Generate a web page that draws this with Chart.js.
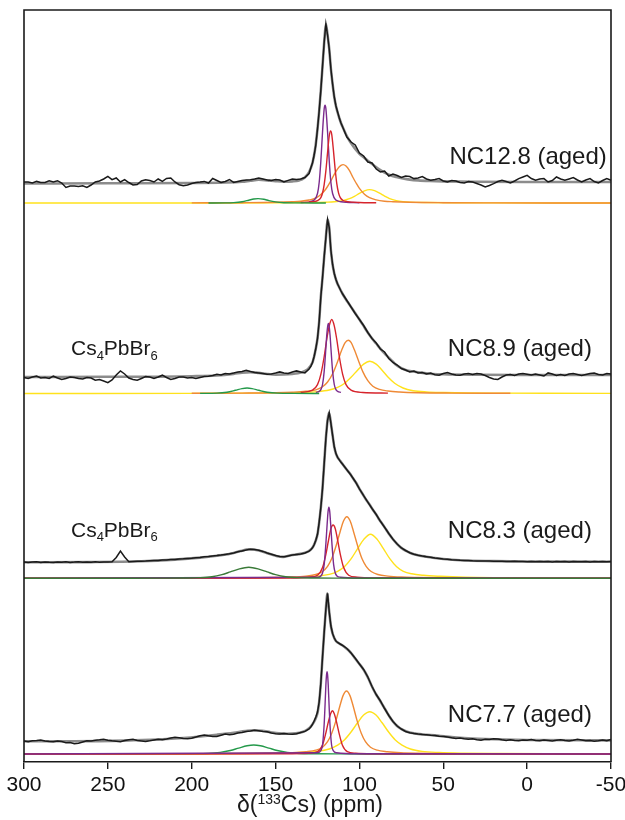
<!DOCTYPE html>
<html><head><meta charset="utf-8">
<script src="https://cdn.jsdelivr.net/npm/chart.js@4.4.1/dist/chart.umd.min.js"></script>
<style>html,body{margin:0;padding:0;background:#fff;}</style>
</head><body>
<canvas id="c" width="625" height="820"></canvas>
<script>
// ---------- x grid of the measured spectra (ppm) ----------
const ppmExp = [
 300,297.5,295,292.5,290,287.5,285,282.5,280,277.5,
 275,272.5,270,267.5,265,262.5,260,257.5,255,252.5,
 250,247.5,245,242.5,240,237.5,235,232.5,230,227.5,
 225,222.5,220,217.5,215,212.5,210,207.5,205,202.5,
 200,197.5,195,192.5,190,187.5,185,182.5,180,177.5,
 175,172.5,170,167.5,165,162.5,160,157.5,155,152.5,
 150,147.5,145,142.5,140,137.5,135,132.5,130,
 129,128,127,126,125,124,123,122,121,120,119,118,117,116,115,114,113,112,111,
 110,107.5,105,102.5,100,97.5,95,92.5,90,87.5,
 85,82.5,80,77.5,75,72.5,70,67.5,65,62.5,
 60,57.5,55,52.5,50,47.5,45,42.5,40,37.5,
 35,32.5,30,27.5,25,22.5,20,17.5,15,12.5,
 10,7.5,5,2.5,0,-2.5,-5,-7.5,-10,-12.5,
 -15,-17.5,-20,-22.5,-25,-27.5,-30,-32.5,-35,-37.5,
 -40,-42.5,-45,-47.5,-50];

// ---------- measured spectra (a.u.) ----------
const expNC128 = [
 21,21,20,21.6,20.5,20.5,22.3,21,22.3,20,
 15.5,17,17,16.5,17.3,15.6,18,21,22,24,
 26.6,23.3,25,21,23.3,20.5,18,18.5,22,23.3,
 22.5,21,24,21.6,24.5,25,21,18.3,17.3,18,
 19.5,20.5,21,21.6,20,24.5,22.5,20.5,21.5,23.5,
 20.6,21.6,22.5,23,23.3,24,25,24,23,22.6,
 23.5,23,21,22.6,24,23.5,24,25.5,29.5,
 35,40,48,58,74,92,113,137,161,179,168,154,134,119,106,97,91,85,80,
 76,66,61,58,50,47,41,40,34,31,
 32,27,29,27.5,25.5,27,26.5,24.4,25,26.5,
 24,22.7,23.5,24.4,22,21,22.5,22,20.5,20,
 21.5,21,19.5,18,16,17.5,19.4,21.5,22.7,21.5,
 20,22,24.4,26,27.7,24.5,22.7,24,24.4,21,
 22.5,26,24,22.7,24,25.4,23,21,23,24.4,
 21.5,20,22.5,24.4,22.7];
const expNC89 = [
 16,15,16.5,17.5,15.5,16,15,17.3,15.5,14,
 15,16.5,16,15,14.5,16,15.5,13.3,14,12.5,
 10.8,13.5,18.5,22.6,19.5,15.5,14,13.3,15,17,
 16.5,15,16.5,18.3,16,14,15,16.5,16.6,15.5,
 16,15,16,17,17.3,18,19.3,18.5,20,19.5,
 20.5,21.6,22,23.3,22,21,20.6,20,19.3,19.5,
 20.5,21.6,20.5,20,21.5,22.6,21.5,20.6,24.5,
 27,31,37,45,55,72,97,116,137,156,174,166,143,129,120,114,109.5,106,102.5,
 99.5,93,86.5,80,74,68,61,55,50.5,44.5,
 41.5,35,31,28.5,25,23.5,21.5,22.5,20.5,21,
 19.5,20.5,18.8,18.3,20,21,19.5,18.5,18.3,19.5,
 20,19,20,19.5,18,16,14.5,14,16.5,18.5,
 19,18,19.5,20,19.3,18.5,19.5,18.5,17.5,20.6,
 19.5,18,19,18,19.5,20,19,18,19,20,
 20.5,19,18.5,20,19.5];
const expNC83 = [
 16.3,15.8,16.2,16.5,15.9,16.4,16,15.7,16.3,16,
 16.5,15.9,16.2,16.6,16,16.3,16.1,16.5,16,16.4,
 16.2,16.5,20.8,27.3,21.3,16.6,16.8,17,17.1,17.3,
 17.6,17.8,17.9,18.3,18.4,18.8,18.9,19.3,19.5,19.9,
 20.1,20.6,20.9,21.5,21.8,22.4,22.8,23.3,23.9,24.5,
 25.4,26.5,27.4,28.3,29,28.8,28,26.9,25.3,24,
 22.8,21.9,21.5,22.4,23.2,23.8,24.4,25.3,27.2,
 28.5,30.5,33.5,38,44,56,71,90,115,140,158,165.5,155,143,131.5,124.7,121,118.5,116,
 114,108.5,103,96.8,89.5,82.6,76.2,69.8,63.8,57,
 51,44.8,39,34.3,30.3,27.8,25.6,24.1,23,22.2,
 21.6,21,20.3,19.8,19.3,19,18.6,18.3,18,17.8,
 17.7,17.5,17.4,17.3,17.2,17.2,17.1,17,17.1,16.9,
 16.8,17,16.7,16.9,16.6,16.8,16.5,16.9,16.6,16.7,
 16.4,16.8,16.5,16.7,16.4,16.8,16.6,16.5,16.8,16.4,
 16.7,16.5,16.8,16.5,16.7];
const expNC77 = [
 13,12.3,13.2,13.5,14,13,12.5,12.3,13,12.5,
 11.3,11.5,10.3,10.8,12,13.3,13,13.8,14.2,14.7,
 13.8,13.2,12.8,12.3,13.5,14.2,14.7,13.5,13,12.5,
 13.2,14,14.7,14.2,15,16,16.7,16.2,15.5,15.2,
 15.8,17,18.2,19,18.2,17.5,17.5,18.8,20,19.2,
 19.8,21,21.5,22.5,23,23.8,23.2,22.5,22.2,21,
 20.3,20,20.5,20,19.8,20.3,21.5,22.6,25,
 27,29.5,33,37,42,52,71,97,122,145,160.7,142,128,120.5,116,113,111.5,110.5,109.5,
 108.5,105.5,101,95.7,90,84.5,77,67.5,59.5,53,
 45.5,38.5,32.5,28,25,22.5,21.3,20.5,20,19.6,
 19.3,18.8,18.5,17.8,17.4,17,16.2,15.5,16,15.2,
 14.7,15.3,14.3,13.8,14.7,14.5,15.2,15,14.2,13.6,
 14.3,13.5,13.2,14,13.8,14.5,13.6,13.2,14,13.5,
 13,13.7,14.2,13.4,13.1,13.8,14.7,14,13.3,13.5,
 12.8,13.2,14,13.3,14.5];

// ---------- total fits ----------
const fitPpmNC128 = [300,250,200,180,170,165,160,155,150,145,140,136,133,130,128,126.5,125,124,123,122,121,120,119,118,117,116,115,114,113,112,111,110,108,106,104,102,100,97,94,91,88,85,82,78,74,70,65,58,50,30,0,-50];
const fitNC128 = [19.5,19.7,20,20.5,21.3,22.3,23.2,22.6,21.8,21.3,21.6,22.6,25,31,40,53,74,92,113,137,161,179,168,154,134,119,106,97,90.5,85,80,76,68.5,62.5,57.5,53,49.3,45,41,37,33.3,30.3,28,26,24.5,23.4,22.6,22,21.6,21.2,21,21];
const fitPpmNC89 = [300,250,200,185,175,170,165,160,155,150,145,140,135,131,128,127,126,125,124,123,122,121,120,119,118,117,116,115,113.5,112,110,108,106,104,102,100,98,96,94,92,90,88,86,84,82,80,78,75,72,68,64,58,50,30,0,-50];
const fitNC89 = [16.5,16.7,17.3,18,19.6,20.8,21.4,20.6,19.5,18.9,19,19.6,21,24,31,37,45,55,72,97,116,137,156,174,166,143,129,120,111.5,106,99.5,94,89,84,79,74,69,63.5,58.5,54,50,45.8,41.8,38.3,35,31.7,28.5,25.3,23.3,22,21,19.8,19.2,18.7,18.5,18.5];
const fitPpmNC83 = [300,260,230,210,195,185,177,171,166,160,154,149,145.5,141,136,132,129.5,127.5,126,125,124,123,122,121,120,119,118.2,117.5,117,116,115,114,113,111.5,110,108,106,104,102,100,98,96,94,92,90,88,86,84,82,80,78,76,74,71,68,64,60,55,50,40,20,0,-50];
const fitNC83 = [16,16.2,17,18.7,20.7,22.6,24.6,27.2,29,27.8,24.6,22,21.4,23,24.2,25.8,28,32,38,44,56,71,90,115,140,158,165.6,161,155,143,131.5,124.7,121,117.5,114,109.5,105.5,100.5,95.5,89.5,84,78.5,73.8,68.5,63.8,58.3,53.5,48.5,43.5,39,35.2,31.8,29.2,26.5,24.3,22.6,21.6,20.3,19.3,18,17.2,16.8,16.6];
const fitPpmNC77 = [300,270,240,220,205,195,185,175,168,163,158,153,148,143,138,134,131,128.5,126.5,125,124,123,122,121,120,119.2,118.5,117.7,117,116,115,114,112.5,110.5,108.5,106.5,104.5,102.5,100.5,98.5,96.5,94.5,92.5,91.5,90,88,86,84,82,80,78,76,73,70,66,60,55,48,40,25,0,-50];
const fitNC77 = [12.8,12.8,13.4,14.5,16,17.5,19.3,21.3,23,23.8,23.2,21.8,20.6,20.2,20.6,22,24.5,28.5,34,41,52,71,97,122,145,160.7,150,137.5,128,120.5,116,113,111,109,106.5,103.7,100,95.5,91,86.8,81.5,75,67.5,64,59.5,54.3,48.5,42.8,37.3,32.5,28.7,26,23.3,21.5,20.3,19.3,18.6,17.4,16.3,15,14,13.6];

// ---------- fitted components: NC12.8 ----------
const p1PurplePpm = [300,130,127,125,124,123,122,121,120.5,120,119,118,117,116,114,111,100,-50];
const p1Purple    = [0,1.3,2.9,9.5,20.5,42,71,94.3,97.7,94.3,71,42,20.5,9.5,2.9,1.3,0.3,0];
const p1RedPpm = [300,135,128,125,123,122,121,120,119,118,117.2,116.5,115.5,114.5,113.5,112.5,111.5,110,107,100,90,-50];
const p1Red    = [0,0.5,1.2,2.3,5.4,10,18.7,32.4,50.4,67,72,68.4,52.6,34.2,19.4,10.4,5.6,2.8,1.4,0.5,0.2,0];
const p1OrangePpm = [300,200,170,150,140,135,130,126,123,120,117,115,113,111,109.7,108,106,104,102,100,97,94,90,85,80,70,50,20,-50];
const p1Orange    = [0,0.15,0.3,0.7,1.3,1.8,3,5,8.5,14,22.3,28.6,34.2,37.6,38.4,37,32.6,26,20,14.6,8.8,5.3,3.1,1.8,1.3,0.7,0.3,0.15,0];
const p1YellowPpm = [300,180,150,130,120,115,110,106,103,100,97,94,91,88,85,82,78,74,70,60,40,20,-50];
const p1Yellow    = [0,0.07,0.2,0.4,0.8,1.2,2.3,4.3,6.7,9.6,12.2,13.4,12.3,9.8,6.9,4.4,2.4,1.4,0.9,0.45,0.18,0.1,0];
const p1GreenPpm = [300,190,180,175,170,166,163,160.4,157,154,150,145,138,120,-50];
const p1Green    = [0,0.06,0.14,0.4,1.3,2.8,4,4.4,3.7,2.4,1.1,0.3,0.1,0.02,0];
// ---------- NC8.9 ----------
const p2PurplePpm = [300,126,124,123,122,121,120,119.5,119,118.5,118,117.5,117,116,115,114,113,111,100,-50];
const p2Purple    = [0,1.1,2.1,3.9,9,22.4,45.5,58,66.5,70,66.5,58,45.5,22.4,9,3.9,2.1,1.1,0.3,0];
const p2RedPpm = [300,150,135,128,125,123,121,119.5,118,116.5,115,113.5,112,110,108,105,98,83,-50];
const p2Red    = [0,0.4,1,3.3,8.9,19.2,37,54,67.7,74,67.7,54,37,19.2,8.9,3.3,1,0.4,0];
const p2OrangePpm = [300,200,170,150,140,132,126,122,119,116,113,110.5,108.5,106.7,105,103,100.5,98,95,92,88,83,76,65,45,10,-50];
const p2Orange    = [0,0.2,0.4,0.75,1.3,2.2,3.7,6.7,11.5,19.7,32,43.7,50.9,53.3,51.2,43.7,32.5,21.9,12.8,7.3,4.1,2.5,1.5,0.8,0.4,0.2,0];
const p2YellowPpm = [300,200,170,150,135,125,118,113,109,105,101,97.5,93.8,90,86.5,83,79,74,68,60,50,35,15,-10,-50];
const p2Yellow    = [0,0.17,0.36,0.6,1.1,1.9,3.5,6.1,10,16.2,23.6,29.4,32.3,29.4,23.3,16.5,10.3,5.5,2.8,1.55,0.97,0.55,0.34,0.2,0.1];
const p2GreenPpm = [300,210,195,185,179,174,170,167,164,160,155,149,139,124,-50];
const p2Green    = [0,0.04,0.11,0.34,1.3,3.2,4.9,5.5,4.9,3.2,1.3,0.34,0.11,0.04,0];
// ---------- NC8.3 ----------
const p3GreenPpm = [300,240,220,205,195,188,182,177,172,166,160,155,150,144,137,127,112,92,-50];
const p3Green    = [0,0.08,0.14,0.28,0.64,1.6,3.7,6.4,9.2,11,9.2,6.4,3.7,1.6,0.64,0.28,0.14,0.08,0];
const p3PurplePpm = [300,125,123,122,121,120,119.2,118.7,118.2,117.7,117.2,116.4,115.4,114.4,113.4,111.4,100,-50];
const p3Purple    = [0,1.1,2.4,5.3,14,34.8,55.4,66.7,71,66.7,55.4,34.8,14,5.3,2.4,1.1,0.3,0];
const p3RedPpm = [300,140,130,125,122,120,118.5,117,115.7,114.4,112.9,111.4,109.4,106.4,101.4,91.4,-50];
const p3Red    = [0,0.37,1.1,3.1,10.7,24,37.3,49.6,53.3,49.6,37.3,24,10.7,3.1,1.1,0.37,0];
const p3OrangePpm = [300,200,170,150,140,132,126,122,119,116.5,114,111.5,109.5,107.5,105.5,103.5,101,98.5,96,93,89,83,75,65,45,15,-50];
const p3Orange    = [0,0.2,0.37,0.8,1.23,2.2,3.8,6.8,12,19.7,32,46.6,57.3,61.6,57.3,46.6,32,19.7,12,6.8,3.8,2.2,1.23,0.8,0.37,0.2,0];
const p3YellowPpm = [300,200,170,150,135,125,118,113,109,105,101,97.5,93.4,89.3,85.8,81.8,77.8,73.8,68.8,61.8,51.8,36.8,16.8,-13,-50];
const p3Yellow    = [0,0.2,0.44,0.7,1.3,2.2,3.9,7,11.5,19.4,29.9,38.7,44,38.7,29.9,19.4,11.5,7,4.5,3,2,1.1,0.6,0.2,0.1];
// ---------- NC7.7 ----------
const p4PurplePpm = [300,125,123,122,121,120.5,120,119.6,119.3,119,118.6,118.1,117.6,116.6,115.6,113.6,100,-50];
const p4Purple    = [0,1.2,3.3,9,30.5,49,69,79.4,82.3,79.4,69,49,30.5,9,3.3,1.2,0.2,0];
const p4RedPpm = [300,140,130,125,122,120,118.5,117.2,116.1,115,113.7,112.2,110.2,107.2,102.2,92.2,-50];
const p4Red    = [0,0.3,0.8,2.4,9.1,21.2,32.3,40.3,43.3,40.3,32.3,21.2,9.1,2.4,0.8,0.3,0];
const p4OrangePpm = [300,200,170,150,140,132,126,122,119,116.5,114,111.7,109.7,107.7,105.7,103.7,101.4,98.9,96.4,93.4,89.4,83.4,75.4,65.4,45,15,-50];
const p4Orange    = [0,0.22,0.4,0.8,1.3,2.3,3.8,6.8,12.3,20.8,33.4,47.7,58.6,63,58.6,47.7,33.4,20.8,12.3,6.8,3.8,2.3,1.3,0.8,0.4,0.22,0];
const p4YellowPpm = [300,200,170,150,135,125,118,113,109,105,101,97.5,93.8,90.1,86.6,82.6,78.6,74.6,69.6,62.6,52.6,37.6,17.6,-12,-50];
const p4Yellow    = [0,0.25,0.5,0.85,1.5,2.6,5,8.9,14,22,31.5,38.9,42.3,38.9,31.5,22,14,8.9,5,2.6,1.5,0.85,0.5,0.25,0.1];
const p4GreenPpm = [300,240,215,200,190,183,177,172,167,163,159,154,149,143,136,126,111,86,-50];
const p4Green    = [0,0.06,0.12,0.23,0.55,1.6,3.5,5.9,8.2,9,8.2,5.9,3.5,1.6,0.55,0.23,0.12,0.06,0];

// ---------- text ----------
const sampleNames = ['NC12.8 (aged)','NC8.9 (aged)','NC8.3 (aged)','NC7.7 (aged)'];
const xTicks = [300,250,200,150,100,50,0,-50];

// ================= presentation =================
const FONT = "'Liberation Sans', Arial, Helvetica, sans-serif";
const C = {purple:'#7b2b8d', red:'#d6242c', orange:'#ef8a36', yellow:'#ffe21c', green:'#24994a', dgreen:'#3a7a38'};
const panelAxis  = ['y1','y2','y3','y4'];
const panelRange = [[0,193],[0,190.5],[0,184.8],[-8,175.7]];

function pts(xs, ys, span){
  const out=[];
  for(let i=0;i<xs.length;i++){
    if(span && (xs[i]>span[0] || xs[i]<span[1])) continue;
    out.push({x:xs[i], y:ys[i]});
  }
  return out;
}
// component list per panel: [ppm, values, colour, span(or null)], first = drawn on top
const comps = [
  [[p1GreenPpm,p1Green,C.green,[200,110]],[p1RedPpm,p1Red,C.red,[150,60]],[p1PurplePpm,p1Purple,C.purple,[130,100]],[p1OrangePpm,p1Orange,C.orange,[200,-50]],[p1YellowPpm,p1Yellow,C.yellow,null]],
  [[p2GreenPpm,p2Green,C.green,[200,120]],[p2PurplePpm,p2Purple,C.purple,[126,111]],[p2RedPpm,p2Red,C.red,[135,20]],[p2OrangePpm,p2Orange,C.orange,[200,0]],[p2YellowPpm,p2Yellow,C.yellow,null]],
  [[p3GreenPpm,p3Green,C.dgreen,null],[p3PurplePpm,p3Purple,C.purple,null],[p3RedPpm,p3Red,C.red,null],[p3OrangePpm,p3Orange,C.orange,null],[p3YellowPpm,p3Yellow,C.yellow,null]],
  [[p4PurplePpm,p4Purple,C.purple,null],[p4RedPpm,p4Red,C.red,null],[p4OrangePpm,p4Orange,C.orange,null],[p4YellowPpm,p4Yellow,C.yellow,null],[p4GreenPpm,p4Green,C.green,null]]
];
const exps = [expNC128, expNC89, expNC83, expNC77];
const fits = [[fitPpmNC128,fitNC128],[fitPpmNC89,fitNC89],[fitPpmNC83,fitNC83],[fitPpmNC77,fitNC77]];

const datasets=[];
for(let p=0;p<4;p++){
  datasets.push({label:sampleNames[p]+' exp', data:pts(ppmExp,exps[p]), yAxisID:panelAxis[p],
    borderColor:'#1a1a1a', borderWidth:1.5, pointRadius:0, tension:0, order:0, clip:6});
  datasets.push({label:sampleNames[p]+' fit', data:pts(fits[p][0],fits[p][1]), yAxisID:panelAxis[p],
    borderColor:'#8c8c8c', borderWidth:2.6, pointRadius:0, cubicInterpolationMode:'monotone', order:1, clip:6});
  comps[p].forEach((c,k)=>{
    datasets.push({label:sampleNames[p]+' c'+k, data:pts(c[0],c[1],c[3]), yAxisID:panelAxis[p],
      borderColor:c[2], borderWidth:1.4, pointRadius:0, cubicInterpolationMode:'monotone', order:2+k, clip:6});
  });
}

const scales = {
  x:{type:'linear', min:-50, max:300, reverse:true, position:'bottom',
     afterBuildTicks:(s)=>{ s.ticks = xTicks.map(v=>({value:v})); },
     ticks:{font:{family:FONT,size:21}, color:'#111', padding:4, maxRotation:0, autoSkip:false},
     grid:{drawOnChartArea:false, drawTicks:true, tickLength:7, color:'#1a1a1a', lineWidth:1.4},
     border:{display:true, color:'#1a1a1a', width:1.6},
     afterFit:(s)=>{ s.height=58; s.paddingLeft=0; s.paddingRight=0; }}
};
panelAxis.forEach((id,p)=>{
  scales[id] = {type:'linear', display:false, position:'left', stack:'panels',
    stackWeight: panelRange[p][1]-panelRange[p][0], weight: 4-p,
    min:panelRange[p][0], max:panelRange[p][1]};
});

// rich text helper (sub/superscripts)
function rich(ctx, parts, x, y, align, size){
  const small = Math.round(size*0.62);
  let w=0;
  parts.forEach(pt=>{ ctx.font=(pt.s?small:size)+'px '+FONT; w+=ctx.measureText(pt.t).width; });
  let cx = align==='right' ? x-w : align==='center' ? x-w/2 : x;
  ctx.textAlign='left'; ctx.textBaseline='alphabetic';
  parts.forEach(pt=>{
    ctx.font=(pt.s?small:size)+'px '+FONT;
    const dy = pt.s==='sub' ? size*0.22 : pt.s==='sup' ? -size*0.36 : 0;
    ctx.fillText(pt.t, cx, y+dy);
    cx += ctx.measureText(pt.t).width;
  });
}

// label placement (data coordinates of each panel)
const nameAnchor = [[-47.5,48],[-38.6,46],[-38.6,49],[-38.6,41]];
const csAnchor = [[null],[272,46],[272,49],[null]];

const annot = {
  id:'annot',
  afterDatasetsDraw(chart){
    const ctx=chart.ctx, a=chart.chartArea;
    ctx.save();
    ctx.strokeStyle='#1a1a1a'; ctx.lineWidth=1.6;
    ctx.beginPath(); ctx.moveTo(a.left,a.bottom); ctx.lineTo(a.left,a.top); ctx.lineTo(a.right,a.top); ctx.lineTo(a.right,a.bottom); ctx.stroke();
    ctx.restore();
  },
  afterDraw(chart){
    const ctx=chart.ctx, xs=chart.scales.x;
    ctx.save(); ctx.fillStyle='#1a1a1a';
    for(let p=0;p<4;p++){
      const ys=chart.scales[panelAxis[p]];
      const size=24;
      const x=xs.getPixelForValue(nameAnchor[p][0]);
      const y=ys.getPixelForValue(nameAnchor[p][1])+size*0.36;
      rich(ctx,[{t:sampleNames[p]}],x,y,'right',size);
      if(csAnchor[p][0]!==null){
        const cx=xs.getPixelForValue(csAnchor[p][0]);
        const cy=ys.getPixelForValue(csAnchor[p][1])+21*0.36;
        rich(ctx,[{t:'Cs'},{t:'4',s:'sub'},{t:'PbBr'},{t:'6',s:'sub'}],cx,cy,'left',21);
      }
    }
    rich(ctx,[{t:'δ('},{t:'133',s:'sup'},{t:'Cs) (ppm)'}],310,812,'center',23);
    ctx.restore();
  }
};

new Chart(document.getElementById('c'),{
  type:'line',
  data:{datasets},
  options:{
    responsive:false, animation:false, devicePixelRatio:1,
    layout:{padding:{left:24,right:14,top:10,bottom:0}},
    plugins:{legend:{display:false}, tooltip:{enabled:false}},
    scales
  },
  plugins:[annot]
});
</script>
</body></html>
